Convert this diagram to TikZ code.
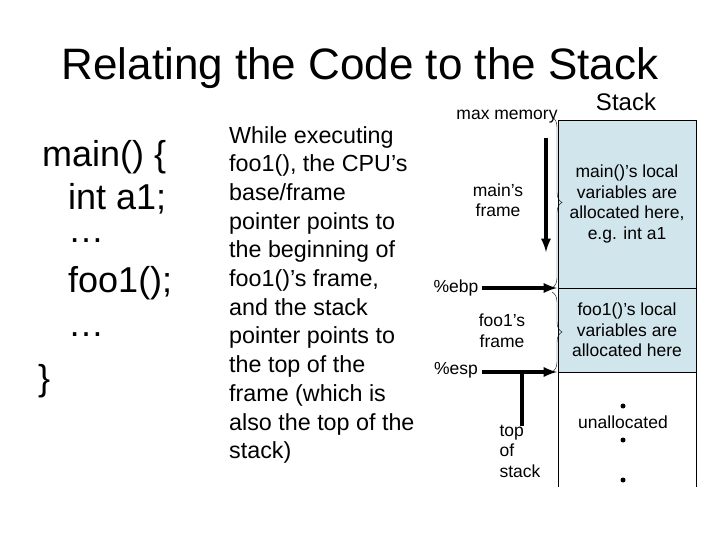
\documentclass[tikz,border=0pt]{standalone}
\usepackage{fontspec}
\setmainfont{Liberation Sans}
\usetikzlibrary{decorations.pathreplacing}
\begin{document}
\begin{tikzpicture}[x=1pt,y=-1pt,
    small/.style={font=\fontsize{17.5}{20.5}\selectfont, align=center, inner sep=0pt},
    big/.style={font=\fontsize{36}{42}\selectfont, anchor=west, inner sep=0pt},
    ptr/.style={line width=3.5pt, -latex}]
  \useasboundingbox (0,0) rectangle (720,540);
  \node (title) at (360,68) {\fontsize{44}{50}\selectfont Relating the Code to the Stack};
  % code column
  \node[big] (l1) at (42,157) {main() \{};
  \node[big] (l2) at (68,199) {int a1;};
  \node[big] (l3) at (68,241) {\dots};
  \node[big] (l4) at (68,283) {foo1();};
  \node[big] (l5) at (68,335) {\dots};
  \node[big] (l6) at (38,381) {\}};
  % explanation
  \node[anchor=north west, align=left, inner sep=0pt,
        font=\fontsize{23.3}{28.7}\selectfont] (txt) at (229,126)
    {While executing\\foo1(), the CPU’s\\base/frame\\pointer points to\\the beginning of\\foo1()’s frame,\\and the stack\\pointer points to\\the top of the\\frame (which is\\also the top of the\\stack)};
  % stack
  \fill[cyan!25!teal!20] (558,120) rectangle (696,372);
  \draw (558,487) -- (558,120) -- (696,120) -- (696,487);
  \draw (558,288) -- (696,288);
  \draw (558,372) -- (696,372);
  \node (stk) at (626,102) {\fontsize{24}{28}\selectfont Stack};
  \node[small] (mainvars) at (627,204) {main()’s local\\variables are\\allocated here,\\e.g. int a1};
  \node[small] (foovars) at (627,330) {foo1()’s local\\variables are\\allocated here};
  \node[small] (unalloc) at (623,422) {unallocated};
  \foreach \y in {406, 440, 480}
    \fill (623,\y) circle (2.5pt);
  % labels at the left of the stack
  \node[small] (maxmem) at (507,117) {max memory};
  \node[small] (mainfr) at (498,200) {main’s\\frame};
  \node[small] (foofr) at (502,331) {foo1’s\\frame};
  \node[small] (ebp) at (456,288) {\%ebp};
  \node[small] (esp) at (456,370) {\%esp};
  \node[small, align=left] (tos) at (520,451) {top\\of\\stack};
  \coordinate (ebpL) at (482,288);
  \coordinate (ebpR) at (557,288);
  \coordinate (espL) at (482,372);
  \coordinate (espR) at (557,372);
  \coordinate (espT) at (522,372);
  \draw[ptr] (ebpL) -- (ebpR);
  \draw[ptr] (espL) -- (espR);
  \draw[line width=3.5pt] (espT) -- ++(0,54);
  \draw[line width=3.5pt, -latex] (546,138) -- (546,252);
  % braces
  \draw[decorate, decoration={brace, amplitude=10pt}, thin] (552,117) -- (552,288);
  \draw[decorate, decoration={brace, amplitude=10pt}, thin] (552,292) -- (552,372);
\end{tikzpicture}
\end{document}
